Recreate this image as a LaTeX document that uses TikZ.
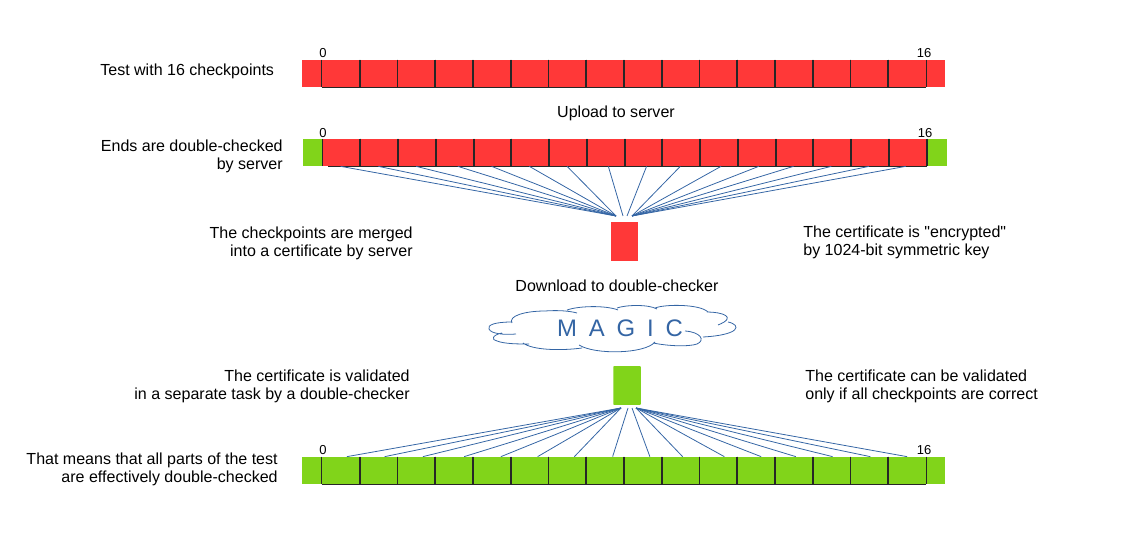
\documentclass[tikz,border=0pt]{standalone}
\usepackage{fontspec}
\newfontfamily\labelfont{Liberation Sans}
\newfontfamily\magicfont[LetterSpace=22]{Liberation Sans}
\definecolor{barred}{HTML}{FF3838}
\definecolor{bargreen}{HTML}{81D41A}
\definecolor{fanblue}{HTML}{3465A4}
\tikzset{
    caption/.style={inner sep=0pt, font=\labelfont\fontsize{9.12}{10.2}\selectfont},
    ticklabel/.style={inner sep=0pt, font=\labelfont\fontsize{7.4}{8}\selectfont},
    barbox/.style={inner sep=0pt, minimum height=0.54cm},
    cellbox/.style={barbox, minimum width=0.755cm},
    rule/.style={line width=0.7pt, black!85},
    fan/.style={line width=0.45pt, fanblue},
}
\begin{document}
\begin{tikzpicture}[x=0.02cm, y=-0.02cm]
    \useasboundingbox (0,0) rectangle (1123,560);

    % bars
    \node [barbox, minimum width=12.86cm, fill=barred] (barA) at (623.5,73.5) {};
    \node [barbox, minimum width=12.08cm, fill=barred] (barB) at (624.7,152.5) {};
    \node [barbox, minimum width=0.4cm, fill=bargreen] (endL) at (313,152.5) {};
    \node [barbox, minimum width=0.4cm, fill=bargreen] (endR) at (936.5,152.5) {};
    \node [barbox, minimum width=12.86cm, fill=bargreen] (barC) at (623.5,470.5) {};

    % cells
    \foreach \r/\x/\y in {a/322/73.5, b/322.7/152.5, c/322/470.5}
        \foreach \i in {1,...,16} {
            \node [cellbox] (\r\i) at ({\x+37.75*(\i-0.5)},\y) {};
            \draw [rule] (\r\i.north west) -- (\r\i.south west);
            \draw [rule] (\r\i.north east) -- (\r\i.south east);
        };
    \draw [rule] (a1.south west) -- (a16.south east);
    \draw [rule] ([xshift=0.12cm]b1.south west) -- (b16.south east);
    \draw [rule] (c1.south west) -- (c16.south east);

    % certificates
    \node [inner sep=0pt, minimum width=0.55cm, minimum height=0.79cm, fill=barred] (certRed) at (624.5,241.5) {};
    \node [inner sep=0pt, minimum width=0.55cm, minimum height=0.78cm, fill=bargreen, rounded corners=0.5pt] (certGreen) at (627,385.5) {};

    % fans
    \coordinate (upL) at (616,216);
    \coordinate (upM) at (623,216);
    \coordinate (upN) at (627,216);
    \coordinate (upR) at (632,216);
    \coordinate (loL) at (621,408);
    \coordinate (loM) at (628,408);
    \coordinate (loN) at (632,408);
    \coordinate (loR) at (636,408);
    \foreach \i/\d/\e in {1/-1/upL, 2/-1/upL, 3/-1/upL, 4/3/upL, 5/-1/upL, 6/-1/upL, 7/-1/upL, 8/2.5/upM,
            9/3/upN, 10/-1/upR, 11/2/upR, 12/2/upR, 13/-1/upR, 14/-1/upR, 15/-1/upR, 16/-2/upR}
        \draw [fan] ([xshift=\d*0.02cm]b\i.south) -- (\e);
    \foreach \i/\d/\e in {1/6/loL, 2/6/loL, 3/6.5/loL, 4/10/loL, 5/9/loL, 6/8/loL, 7/7/loL, 8/7.5/loM,
            9/7/loN, 10/2/loR, 11/6/loR, 12/5/loR, 13/2/loR, 14/1/loR, 15/1/loR, 16/0/loR}
        \draw [fan] ([xshift=\d*0.02cm]c\i.north) -- (\e);

    % cloud
    \draw [fan]
        (512,322) .. controls (495,322) and (487,325) .. (489,329) .. controls (491,334) and (505,335) .. (516,334)
        (502,333) .. controls (492,335) and (491,340) .. (497,341) .. controls (505,344) and (518,344) .. (529,344)
        (512,323) .. controls (508,316) and (525,311) .. (545,311) .. controls (558,310) and (570,311) .. (577,313)
        (567,310) .. controls (578,306) and (605,305) .. (618,310)
        (617,308) .. controls (625,305) and (648,304) .. (657,309)
        (655,308) .. controls (665,304) and (700,304) .. (708,312)
        (707,312) .. controls (722,312) and (738,317) .. (718,325)
        (728,322) .. controls (742,325) and (740,335) .. (703,337)
        (685,331) .. controls (700,332) and (706,340) .. (697,344) .. controls (688,347) and (668,346) .. (653,343)
        (655,342) .. controls (645,354) and (595,355) .. (579,345)
        (582,348) .. controls (560,351) and (532,350) .. (523,343);
    \node [inner sep=0pt, text=fanblue, font=\magicfont\fontsize{13.6}{15}\selectfont] (magic) at (620,328) {M A G I C};

    % tick labels
    \node [ticklabel] (zeroA) at (323,53) {0};
    \node [ticklabel] (endA) at (924,53) {16};
    \node [ticklabel] (zeroB) at (323,133) {0};
    \node [ticklabel] (endB) at (925,133) {16};
    \node [ticklabel] (zeroC) at (323,450) {0};
    \node [ticklabel] (endC) at (924,450) {16};

    % captions
    \node [caption, right] (capTest) at (100,71.5) {Test with 16 checkpoints};
    \node [caption, left, align=right] (capEnds) at (283,156) {Ends are double-checked\\by server};
    \node [caption] (capUpload) at (616,113.5) {Upload to server};
    \node [caption, left, align=right] (capMerged) at (413,243) {The checkpoints are merged\\into a certificate by server};
    \node [caption, right, align=left] (capCrypt) at (803,242) {The certificate is "encrypted"\\by 1024-bit symmetric key};
    \node [caption] (capDown) at (617,286) {Download to double-checker};
    \node [caption, left, align=right] (capValid) at (410,386.5) {The certificate is validated\\in a separate task by a double-checker};
    \node [caption, right, align=left] (capOnly) at (805,386.5) {The certificate can be validated\\only if all checkpoints are correct};
    \node [caption, left, align=right] (capMeans) at (278,469) {That means that all parts of the test\\are effectively double-checked};
\end{tikzpicture}
\end{document}
